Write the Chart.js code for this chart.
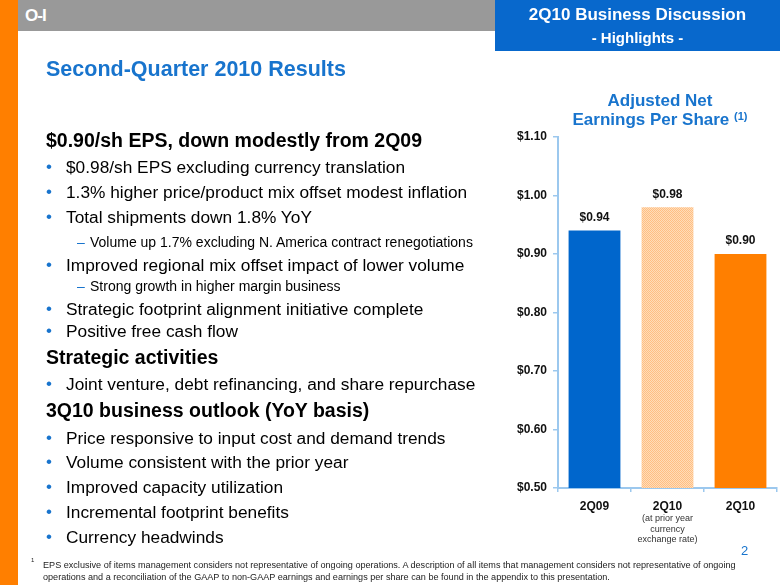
<!DOCTYPE html>
<html>
<head>
<meta charset="utf-8">
<script src="https://cdn.jsdelivr.net/npm/chart.js@4/dist/chart.umd.min.js"></script>
<style>
  html, body { margin: 0; padding: 0; background: #fff; }
  body { width: 780px; height: 585px; position: relative; overflow: hidden;
         font-family: "Liberation Sans", Arial, Helvetica, sans-serif; color: #000; }
  #chartCanvas { position: absolute; left: 0; top: 0; }
  .abs { position: absolute; white-space: nowrap; }
  .strip { position: absolute; left: 0; top: 0; width: 18px; height: 585px; background: #FF7F00; }
  .gray { position: absolute; left: 18px; top: 0; width: 480px; height: 31px; background: #999999; }
  .bluebox { position: absolute; left: 495px; top: 0; width: 285px; height: 51px; background: #0868CC; }
  .hdr1 { left: 495px; width: 285px; text-align: center; top: 5px; font-weight: bold; font-size: 17px; color: #fff; line-height: 20px; }
  .hdr2 { left: 495px; width: 285px; text-align: center; top: 29px; font-weight: bold; font-size: 15px; color: #fff; line-height: 18px; }
  .logo { left: 25px; top: 6px; font-weight: bold; font-size: 17px; color: #fff; line-height: 20px; letter-spacing: -1px; }
  .title { left: 46px; top: 57px; font-weight: bold; font-size: 21.5px; color: #1874CD; line-height: 24px; }
  .h { left: 46px; font-weight: bold; font-size: 19.5px; line-height: 22px; }
  .b { left: 66px; font-size: 17.3px; line-height: 20px; }
  .bd { left: 46px; font-size: 17px; line-height: 20px; color: #1874CD; }
  .s { left: 90px; font-size: 14px; line-height: 16px; }
  .sd { left: 77px; font-size: 14px; line-height: 16px; color: #1874CD; }
  .ctitle { left: 540px; width: 240px; text-align: center; font-weight: bold; font-size: 17px; color: #1874CD; line-height: 20px; }
  .ctitle sup { font-size: 11px; vertical-align: 5px; line-height: 0; }
  .foot { left: 43px; font-size: 9.1px; line-height: 12px; color: #222; }
  .footn { left: 31px; top: 557px; font-size: 6px; color: #222; }
  .page { left: 741px; top: 543px; font-size: 13px; color: #1874CD; }
</style>
</head>
<body>
<canvas id="chartCanvas" width="780" height="585"></canvas>
<div class="strip"></div>
<div class="gray"></div>
<div class="bluebox"></div>
<div class="abs logo">O-I</div>
<div class="abs hdr1">2Q10 Business Discussion</div>
<div class="abs hdr2">- Highlights -</div>

<div class="abs title">Second-Quarter 2010 Results</div>

<div class="abs h" style="top:129px">$0.90/sh EPS, down modestly from 2Q09</div>
<div class="abs bd" style="top:157px">•</div><div class="abs b" style="top:157px">$0.98/sh EPS excluding currency translation</div>
<div class="abs bd" style="top:182px">•</div><div class="abs b" style="top:182px">1.3% higher price/product mix offset modest inflation</div>
<div class="abs bd" style="top:207px">•</div><div class="abs b" style="top:207px">Total shipments down 1.8% YoY</div>
<div class="abs sd" style="top:234px">–</div><div class="abs s" style="top:234px">Volume up 1.7% excluding N. America contract renegotiations</div>
<div class="abs bd" style="top:255px">•</div><div class="abs b" style="top:255px">Improved regional mix offset impact of lower volume</div>
<div class="abs sd" style="top:278px">–</div><div class="abs s" style="top:278px">Strong growth in higher margin business</div>
<div class="abs bd" style="top:299px">•</div><div class="abs b" style="top:299px">Strategic footprint alignment initiative complete</div>
<div class="abs bd" style="top:321px">•</div><div class="abs b" style="top:321px">Positive free cash flow</div>
<div class="abs h" style="top:346px">Strategic activities</div>
<div class="abs bd" style="top:374px">•</div><div class="abs b" style="top:374px">Joint venture, debt refinancing, and share repurchase</div>
<div class="abs h" style="top:399px">3Q10 business outlook (YoY basis)</div>
<div class="abs bd" style="top:428px">•</div><div class="abs b" style="top:428px">Price responsive to input cost and demand trends</div>
<div class="abs bd" style="top:452px">•</div><div class="abs b" style="top:452px">Volume consistent with the prior year</div>
<div class="abs bd" style="top:477px">•</div><div class="abs b" style="top:477px">Improved capacity utilization</div>
<div class="abs bd" style="top:502px">•</div><div class="abs b" style="top:502px">Incremental footprint benefits</div>
<div class="abs bd" style="top:527px">•</div><div class="abs b" style="top:527px">Currency headwinds</div>

<div class="abs ctitle" style="top:91px">Adjusted Net</div>
<div class="abs ctitle" style="top:110px">Earnings Per Share <sup>(1)</sup></div>

<div class="abs page">2</div>
<div class="abs footn">1</div>
<div class="abs foot" style="top:559px">EPS exclusive of items management considers not representative of ongoing operations. A description of all items that management considers not representative of ongoing</div>
<div class="abs foot" style="top:571px">operations and a reconciliation of the GAAP to non-GAAP earnings and earnings per share can be found in the appendix to this presentation.</div>

<script>
// ---- data ----
const categories = ['2Q09', '2Q10', '2Q10'];
const categoryNotes = [[], ['(at prior year', 'currency', 'exchange rate)'], []];
const epsValues = [0.94, 0.98, 0.90];
const yMin = 0.50;
const yMax = 1.10;
const yStep = 0.10;

// ---- styles ----
const FONT = '"Liberation Sans", Arial, Helvetica, sans-serif';
const axisColor = '#9CC8EE';

function hatchPattern() {
  const c = document.createElement('canvas');
  c.width = 2; c.height = 2;
  const g = c.getContext('2d');
  g.fillStyle = '#FFDDB8';
  g.fillRect(0, 0, 2, 2);
  g.fillStyle = '#FFBE84';
  g.fillRect(0, 0, 1, 1);
  g.fillRect(1, 1, 1, 1);
  return g.createPattern(c, 'repeat');
}

const barColors = ['#0066CC', hatchPattern(), '#FF7F00'];

const valueLabels = {
  id: 'valueLabels',
  afterDatasetsDraw(chart) {
    const ctx = chart.ctx;
    const meta = chart.getDatasetMeta(0);
    ctx.save();
    ctx.font = 'bold 12px ' + FONT;
    ctx.fillStyle = '#111';
    ctx.textAlign = 'center';
    ctx.textBaseline = 'middle';
    meta.data.forEach((bar, i) => {
      ctx.fillText('$' + epsValues[i].toFixed(2), bar.x, bar.y - 13);
    });
    ctx.restore();
  }
};

const notesPlugin = {
  id: 'notes',
  afterDraw(chart) {
    const ctx = chart.ctx;
    const xs = chart.scales.x;
    ctx.save();
    ctx.font = '9px ' + FONT;
    ctx.fillStyle = '#333';
    ctx.textAlign = 'center';
    ctx.textBaseline = 'middle';
    categoryNotes.forEach((lines, i) => {
      const x = xs.getPixelForValue(i);
      lines.forEach((t, k) => ctx.fillText(t, x, xs.top + 31 + k * 10.5));
    });
    ctx.restore();
  }
};

new Chart(document.getElementById('chartCanvas'), {
  type: 'bar',
  data: {
    labels: categories,
    datasets: [{
      data: epsValues,
      backgroundColor: barColors,
      borderWidth: 0,
      barPercentage: 0.71,
      categoryPercentage: 1.0
    }]
  },
  options: {
    responsive: false,
    animation: false,
    layout: { padding: { left: 498, right: 3, top: 137, bottom: 37 } },
    plugins: { legend: { display: false }, tooltip: { enabled: false }, title: { display: false } },
    scales: {
      x: {
        afterFit(scale) { scale.height = 60; },
        grid: { display: true, drawOnChartArea: false, drawTicks: true, tickLength: 4, color: axisColor, lineWidth: 1.5 },
        border: { display: true, color: axisColor, width: 2 },
        ticks: { color: '#111', font: { family: FONT, size: 12, weight: 'bold' }, padding: 7 }
      },
      y: {
        min: yMin, max: yMax,
        afterFit(scale) { scale.width = 60; },
        grid: { display: true, drawOnChartArea: false, drawTicks: true, tickLength: 5, color: axisColor, lineWidth: 1.5 },
        border: { display: true, color: axisColor, width: 2 },
        ticks: {
          stepSize: yStep,
          color: '#111',
          font: { family: FONT, size: 12, weight: 'bold' },
          padding: 6,
          callback: v => '$' + Number(v).toFixed(2)
        }
      }
    }
  },
  plugins: [valueLabels, notesPlugin]
});
</script>
</body>
</html>
